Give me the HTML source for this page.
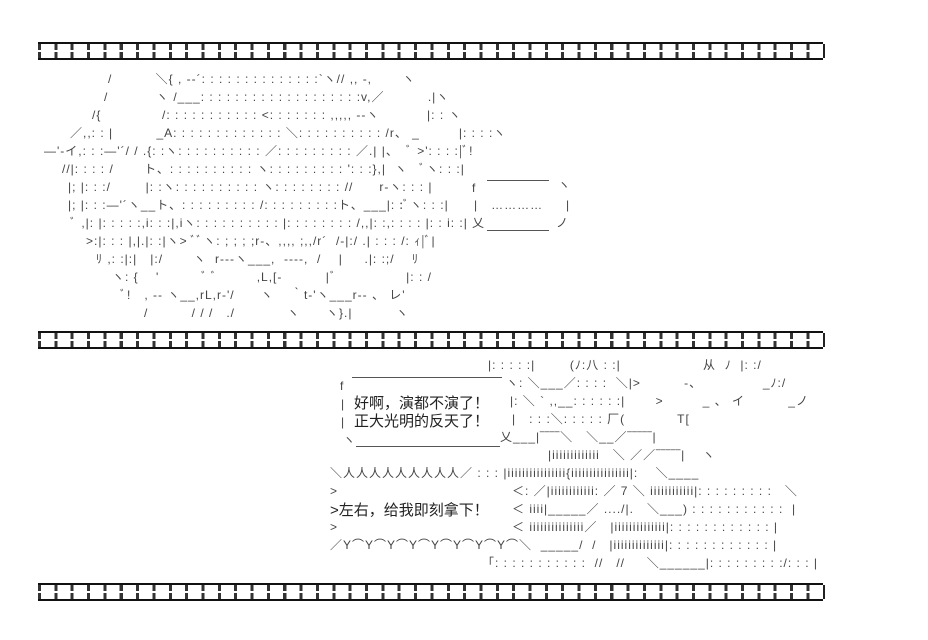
<!DOCTYPE html>
<html><head><meta charset="utf-8"><style>
body{margin:0;background:#fff;width:928px;height:640px;overflow:hidden;position:relative;font-family:"Liberation Sans","Noto Sans CJK SC",sans-serif;color:#333}
.s{position:absolute;left:38px;width:785px;height:14px;border-top:2px solid #111;border-bottom:2px solid #111;
background:repeating-linear-gradient(90deg,#333 0 3px,transparent 3px 16.35px);}
.s:after{content:"";position:absolute;left:0;right:0;top:6px;height:2px;background:#fff}
.s:before{content:"";position:absolute;right:-2px;top:0;bottom:0;width:2px;background:#222}
.l{position:absolute;white-space:pre;font-size:12px;line-height:14px;color:#444;letter-spacing:1px}
.c{position:absolute;white-space:pre;font-size:15px;line-height:18px;color:#222}
.h{position:absolute;height:1px;background:#555}
</style></head><body>
<div class="s" style="top:42px"></div>
<div class="s" style="top:331px"></div>
<div class="s" style="top:583px"></div>

<div class="l" style="left:108px;top:72px">/          ＼{ , -‐´: : : : : : : : : : : : : :`ヽ// ,, -,       ヽ</div>
<div class="l" style="left:104px;top:90px">/           ヽ /___: : : : : : : : : : : : : : : : : : :v,／          .|ヽ</div>
<div class="l" style="left:92px;top:108px">/{              /: : : : : : : : : : : <: : : : : : : ,,,,, ‐‐ヽ           |: : ヽ</div>
<div class="l" style="left:70px;top:126px">／,,: : |          _A: : : : : : : : : : : : : ＼: : : : : : : : : : /r、 _         |: : : :ヽ</div>
<div class="l" style="left:44px;top:144px">―'-イ,: : :―'´/ / .{: :ヽ: : : : : : : : : : ／: : : : : : : : : ／.| |、  ﾞ >': : : :|ﾞ!</div>
<div class="l" style="left:62px;top:162px">//|: : : : /       ト、: : : : : : : : : : ヽ: : : : : : : : : ': : :},|  ヽ   ﾞヽ: : :|</div>
<div class="l" style="left:68px;top:180px">|; |: : :/        |: :ヽ: : : : : : : : : : ヽ: : : : : : : : //      r‐ヽ: : : |</div>
<div class="l" style="left:68px;top:198px">|; |: : :―'´ヽ__ト、: : : : : : : : : /: : : : : : : : :ト、___|: :ﾞヽ: : :|</div>
<div class="l" style="left:70px;top:216px">ﾞ ,|: |: : : : :,i: : :|,iヽ: : : : : : : : : : |: : : : : : : : /,,|: :,: : : : |: : i: :|</div>
<div class="l" style="left:86px;top:234px">>:|: : : |,|.|: :|ヽ> ﾞﾞヽ: ; ; ; ;r‐、,,,, ;,,/r´  /‐|:/ .| : : : /: ｨ|ﾞ|</div>
<div class="l" style="left:96px;top:252px">ﾘ ,: :|:|   |:/       ヽ  r‐‐‐ヽ___,  ‐‐‐‐,  /    |     .|: :;/    ﾘ</div>
<div class="l" style="left:112px;top:270px">ヽ: {    '          ﾞ ﾞ         ,L,[‐          |ﾞ                |: : /</div>
<div class="l" style="left:120px;top:288px">ﾞ!   , ‐‐ ヽ__,rL,r‐'/      ヽ    ｀t‐'ヽ___r‐‐ 、 レ'</div>
<div class="l" style="left:144px;top:306px">/          / / /   ./            ヽ      ヽ}.|          ヽ</div>

<!-- small bubble -->
<div class="h" style="left:487px;top:180px;width:62px"></div>
<div class="h" style="left:487px;top:230px;width:62px"></div>
<div class="l" style="left:472px;top:181px">f</div>
<div class="l" style="left:474px;top:198px">|   …………</div>
<div class="l" style="left:472px;top:216px">乂</div>
<div class="l" style="left:558px;top:178px">ヽ</div>
<div class="l" style="left:566px;top:198px">|</div>
<div class="l" style="left:556px;top:216px">ノ</div>

<div class="l" style="left:488px;top:358px">|: : : : :|        (ﾉ:八 : :|                   从  ﾉ  |: :/</div>
<div class="l" style="left:506px;top:376px">ヽ: ＼___／: : : :  ＼|>          -、              _ﾉ:/</div>
<div class="l" style="left:510px;top:394px">|: ＼ ` ,,__: : : : : :|       >         _ 、 イ          _ノ</div>
<div class="l" style="left:512px;top:412px">|   : : :＼: : : : : 厂(            T[</div>
<div class="l" style="left:500px;top:430px">乂___|‾‾‾‾＼   ＼__／‾‾‾‾‾|</div>
<div class="l" style="left:548px;top:448px">|iiiiiiiiiiiii   ＼ ／／‾‾‾‾‾|    ヽ</div>
<div class="l" style="left:330px;top:466px">＼人人人人人人人人人／ : : : |iiiiiiiiiiiiiiii{iiiiiiiiiiiiiiii|:    ＼____</div>
<div class="l" style="left:330px;top:484px">&gt;</div>
<div class="l" style="left:512px;top:484px">＜: ／|iiiiiiiiiiii: ／ 7 ＼ iiiiiiiiiiii|: : : : : : : : :   ＼</div>
<div class="l" style="left:512px;top:502px">＜ iiii|_____／ ..../|.   ＼___) : : : : : : : : : : :  |</div>
<div class="l" style="left:330px;top:520px">&gt;</div>
<div class="l" style="left:512px;top:520px">＜ iiiiiiiiiiiiiii／   |iiiiiiiiiiiiii|: : : : : : : : : : : : |</div>
<div class="l" style="left:330px;top:538px">／Y⌒Y⌒Y⌒Y⌒Y⌒Y⌒Y⌒Y⌒＼  _____/  /   |iiiiiiiiiiiiii|: : : : : : : : : : : : |</div>
<div class="l" style="left:482px;top:556px">「: : : : : : : : : : :  //   //     ＼______|: : : : : : : : :/: : : |</div>

<!-- main bubble -->
<div class="h" style="left:352px;top:377px;width:150px"></div>
<div class="h" style="left:356px;top:446px;width:144px"></div>
<div class="l" style="left:340px;top:379px">f</div>
<div class="l" style="left:341px;top:397px">|</div>
<div class="l" style="left:341px;top:415px">|</div>
<div class="l" style="left:343px;top:433px">ヽ</div>
<div class="c" style="left:354px;top:395px">好啊，演都不演了！</div>
<div class="c" style="left:354px;top:413px">正大光明的反天了！</div>
<div class="c" style="left:330px;top:502px">&gt;左右，给我即刻拿下！</div>
</body></html>
